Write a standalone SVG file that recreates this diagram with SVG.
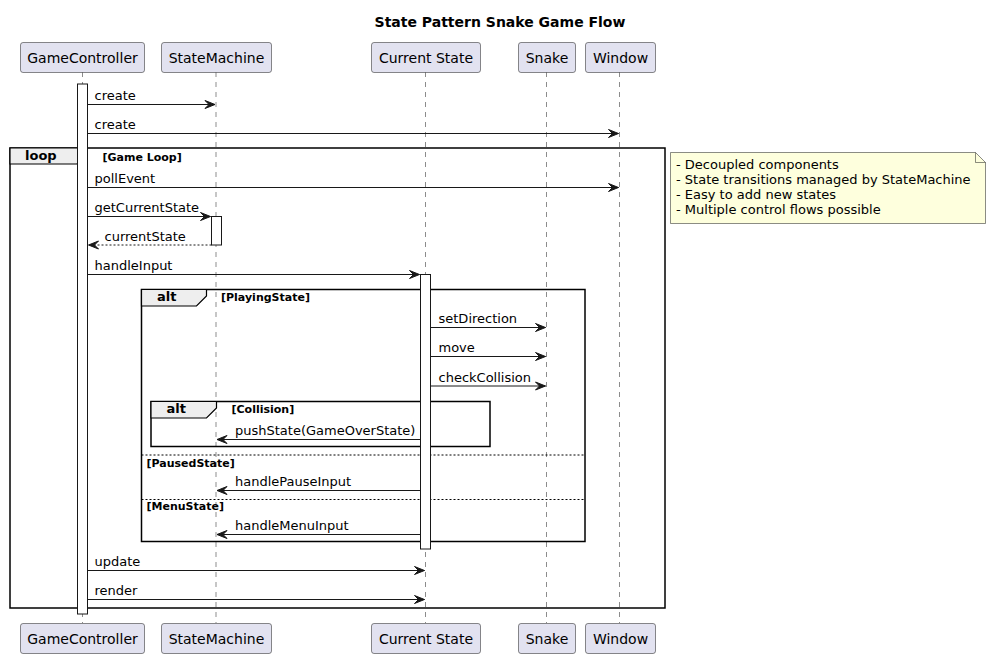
<svg xmlns="http://www.w3.org/2000/svg" width="991" height="658" viewBox="0 0 991 658">
<defs>
<style>
text{font-family:"DejaVu Sans","Noto Sans",sans-serif;fill:#000}
.part rect{fill:#E2E2F0;stroke:#181818;stroke-width:0.5}
.part text{font-size:14px;text-anchor:middle}
.life{stroke:#181818;stroke-width:0.5;stroke-dasharray:5,5;fill:none}
.act{fill:#FFFFFF;stroke:#181818;stroke-width:1}
.msg{stroke:#181818;stroke-width:1;fill:none;marker-end:url(#ah)}
.ret{stroke-dasharray:2,2}
.mt{font-size:13px}
.frame{fill:none;stroke:#000;stroke-width:1.5}
.tab{fill:#EEEEEE;stroke:#000;stroke-width:1.2}
.fl{font-size:13px;font-weight:bold}
.guard{font-size:11px;font-weight:bold}
.sep{stroke:#000;stroke-width:1;stroke-dasharray:2,2}
.note path{fill:#FEFFDD;stroke:#181818;stroke-width:0.5}
.note text{font-size:13px}
</style>
<marker id="ah" markerWidth="12" markerHeight="10" refX="11" refY="5" orient="auto" markerUnits="userSpaceOnUse">
<path d="M1,1 L11,5 L1,9 L5,5 Z" fill="#181818" stroke="#181818" stroke-width="1" stroke-linejoin="miter"/>
</marker>
</defs>
<rect width="991" height="658" fill="#FFFFFF"/>
<text x="500" y="27" text-anchor="middle" style="font-size:14px;font-weight:bold">State Pattern Snake Game Flow</text>

<g id="lifelines">
<line class="life" x1="82.5" y1="72" x2="82.5" y2="623"/>
<line class="life" x1="216" y1="72" x2="216" y2="623"/>
<line class="life" x1="425.5" y1="72" x2="425.5" y2="623"/>
<line class="life" x1="546.5" y1="72" x2="546.5" y2="623"/>
<line class="life" x1="619.5" y1="72" x2="619.5" y2="623"/>
</g>

<g id="frames">
<rect class="frame" x="10" y="148" width="655" height="460"/>
<path class="tab" d="M10,148 L87,148 L87,154 L77,164 L10,164 Z"/>
<text class="fl" x="25" y="160">loop</text>
<text class="guard" x="102.5" y="160.5">[Game Loop]</text>

<rect class="frame" x="141.5" y="289.5" width="443.5" height="252"/>
<path class="tab" d="M141.5,289.5 L206.5,289.5 L206.5,296 L196.5,306 L141.5,306 Z"/>
<text class="fl" x="157" y="301">alt</text>
<text class="guard" x="221" y="301">[PlayingState]</text>
<line class="sep" x1="141.5" y1="455" x2="585" y2="455"/>
<text class="guard" x="146.5" y="466.5">[PausedState]</text>
<line class="sep" x1="141.5" y1="499.5" x2="585" y2="499.5"/>
<text class="guard" x="146.5" y="510">[MenuState]</text>

<rect class="frame" x="151" y="401.5" width="339" height="45"/>
<path class="tab" d="M151,401.5 L216.5,401.5 L216.5,408 L206.5,418 L151,418 Z"/>
<text class="fl" x="166.5" y="413">alt</text>
<text class="guard" x="231.5" y="412.5">[Collision]</text>
</g>

<g id="activations">
<rect class="act" x="77.5" y="84" width="10" height="530"/>
<rect class="act" x="211.5" y="216.5" width="10" height="28.5"/>
<rect class="act" x="420.5" y="274.5" width="10" height="274.5"/>
</g>

<g id="connectors">
<line class="msg" x1="87.5" y1="104.5" x2="215" y2="104.5"/>
<text class="mt" x="94.5" y="100">create</text>
<line class="msg" x1="87.5" y1="133.5" x2="618.5" y2="133.5"/>
<text class="mt" x="94.5" y="129">create</text>
<line class="msg" x1="87.5" y1="187.5" x2="618.5" y2="187.5"/>
<text class="mt" x="94.5" y="183">pollEvent</text>
<line class="msg" x1="87.5" y1="216.5" x2="210.5" y2="216.5"/>
<text class="mt" x="94.5" y="212">getCurrentState</text>
<line class="msg ret" x1="211.5" y1="245" x2="88.5" y2="245"/>
<text class="mt" x="104.5" y="240.5">currentState</text>
<line class="msg" x1="87.5" y1="274.5" x2="419.5" y2="274.5"/>
<text class="mt" x="94.5" y="270">handleInput</text>
<line class="msg" x1="430.5" y1="327.5" x2="545.5" y2="327.5"/>
<text class="mt" x="438.5" y="323">setDirection</text>
<line class="msg" x1="430.5" y1="356.5" x2="545.5" y2="356.5"/>
<text class="mt" x="438.5" y="352">move</text>
<line class="msg" x1="430.5" y1="386" x2="545.5" y2="386"/>
<text class="mt" x="438.5" y="381.5">checkCollision</text>
<line class="msg" x1="420.5" y1="439.5" x2="217" y2="439.5"/>
<text class="mt" x="235" y="434.5">pushState(GameOverState)</text>
<line class="msg" x1="420.5" y1="490.5" x2="217" y2="490.5"/>
<text class="mt" x="235" y="485.5">handlePauseInput</text>
<line class="msg" x1="420.5" y1="534.5" x2="217" y2="534.5"/>
<text class="mt" x="235" y="529.5">handleMenuInput</text>
<line class="msg" x1="87.5" y1="570.5" x2="424.5" y2="570.5"/>
<text class="mt" x="94.5" y="566">update</text>
<line class="msg" x1="87.5" y1="599.5" x2="424.5" y2="599.5"/>
<text class="mt" x="94.5" y="595">render</text>
</g>

<g id="GameController" class="part">
<rect x="20.5" y="42.5" width="124" height="30" rx="2.5"/>
<text x="82.5" y="62.5">GameController</text>
<rect x="20.5" y="623.5" width="124" height="30" rx="2.5"/>
<text x="82.5" y="643.5">GameController</text>
</g>
<g id="StateMachine" class="part">
<rect x="161.5" y="42.5" width="110" height="30" rx="2.5"/>
<text x="216.5" y="62.5">StateMachine</text>
<rect x="161.5" y="623.5" width="110" height="30" rx="2.5"/>
<text x="216.5" y="643.5">StateMachine</text>
</g>
<g id="CurrentState" class="part">
<rect x="371.5" y="42.5" width="109" height="30" rx="2.5"/>
<text x="426" y="62.5">Current State</text>
<rect x="371.5" y="623.5" width="109" height="30" rx="2.5"/>
<text x="426" y="643.5">Current State</text>
</g>
<g id="Snake" class="part">
<rect x="518.5" y="42.5" width="57" height="30" rx="2.5"/>
<text x="547" y="62.5">Snake</text>
<rect x="518.5" y="623.5" width="57" height="30" rx="2.5"/>
<text x="547" y="643.5">Snake</text>
</g>
<g id="Window" class="part">
<rect x="585.5" y="42.5" width="70" height="30" rx="2.5"/>
<text x="620.5" y="62.5">Window</text>
<rect x="585.5" y="623.5" width="70" height="30" rx="2.5"/>
<text x="620.5" y="643.5">Window</text>
</g>

<g id="note" class="note">
<path d="M670.5,152.5 L975.5,152.5 L985.5,162.5 L985.5,223.5 L670.5,223.5 Z"/>
<path d="M975.5,152.5 L975.5,162.5 L985.5,162.5" style="fill:none"/>
<text x="676" y="168.5">- Decoupled components</text>
<text x="676" y="183.5">- State transitions managed by StateMachine</text>
<text x="676" y="198.5">- Easy to add new states</text>
<text x="676" y="213.5">- Multiple control flows possible</text>
</g>
</svg>
